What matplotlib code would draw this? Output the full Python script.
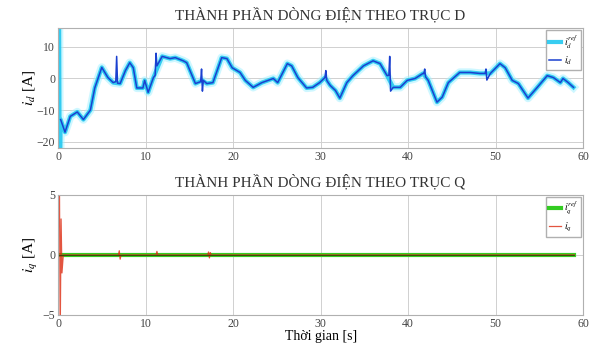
import numpy as np
import matplotlib
matplotlib.use('Agg')
import matplotlib.pyplot as plt

plt.rcParams['font.family'] = ['Liberation Serif', 'DejaVu Serif']
plt.rcParams['mathtext.fontset'] = 'stix'

# Dong dien truc d : gia tri dat (ref) doc tu hinh
t_ref = [0.0, 0.1, 0.2, 0.3, 0.8, 1.4, 2.2, 2.9, 3.7, 4.2, 5.0, 5.7, 6.3, 7.1, 7.7,
         8.2, 8.6, 9.0, 9.7, 9.9, 10.3, 10.9, 11.9, 12.8, 13.4, 14.3, 14.7, 15.7,
         16.5, 17.0, 17.7, 18.7, 19.3, 19.9, 20.8, 21.4, 22.3, 23.3, 24.6, 25.1,
         26.2, 26.7, 27.4, 28.4, 29.1, 29.9, 30.5, 31.1, 31.7, 32.2, 33.0, 33.7,
         34.9, 36.0, 36.8, 37.6, 38.3, 38.9, 39.1, 39.9, 40.8, 41.7, 42.3, 43.3,
         43.9, 44.6, 45.9, 47.1, 48.2, 49.4, 50.5, 51.1, 51.9, 52.6, 53.7, 54.7,
         55.9, 56.6, 57.4, 57.7, 58.3, 58.9]
id_ref = [0.0, 40.0, -40.0, -13.0, -17.0, -12.0, -10.6, -13.0, -10.0, -3.0, 3.5, 0.3,
          -1.3, -1.6, 2.5, 5.0, 3.4, -3.0, -3.0, -0.6, -4.4, 0.3, 7.0, 6.3, 6.6, 5.6,
          5.0, -1.6, -0.6, -1.6, -1.3, 6.6, 6.3, 3.4, 1.9, -0.6, -2.8, -1.3, 0.0, -1.3,
          4.7, 4.0, 0.3, -3.0, -2.8, -1.3, 0.3, -2.2, -3.8, -6.2, -1.3, 0.9, 4.0, 5.6,
          4.7, 0.9, -2.8, -2.8, -2.8, -0.6, 0.0, 1.6, -0.6, -7.5, -5.9, -1.3, 1.9, 1.9,
          1.6, 1.6, 4.7, 3.4, -0.6, -1.6, -6.2, -3.0, 0.9, 0.3, -1.3, 0.0, -1.3, -2.8]

# Dong dien truc d do duoc (co cac xung nhieu)
t_id = [0.3, 0.8, 1.4, 2.2, 2.9, 3.7, 4.2, 5.0, 5.7, 6.3, 6.6, 6.7, 6.8, 7.1, 7.7,
        8.2, 8.6, 9.0, 9.7, 9.9, 10.3, 10.9, 11.1, 11.2, 11.3, 11.9, 12.8, 13.4,
        14.3, 14.7, 15.7, 16.3, 16.4, 16.5, 16.6, 17.0, 17.7, 18.7, 19.3, 19.9, 20.8,
        21.4, 22.3, 23.3, 24.6, 25.1, 26.2, 26.7, 27.4, 28.4, 29.1, 29.9, 30.5, 30.6,
        30.7, 30.8, 31.1, 31.7, 32.2, 33.0, 33.7, 34.9, 36.0, 36.8, 37.6, 37.8, 37.9,
        38.0, 38.3, 38.9, 39.1, 39.9, 40.8, 41.7, 41.8, 41.9, 42.0, 42.3, 43.3, 43.9,
        44.6, 45.9, 47.1, 48.2, 48.8, 48.9, 49.0, 49.4, 50.5, 51.1, 51.9, 52.6, 53.7,
        54.7, 55.9, 56.6, 57.4, 57.7, 58.3, 58.9]
id_meas = [-13.0, -17.0, -12.0, -10.6, -13.0, -10.0, -3.0, 3.5, 0.3, -1.3, -1.0, 7.0,
           -1.5, -1.6, 2.5, 5.0, 3.4, -3.0, -3.0, -0.6, -4.4, 0.3, 1.0, 8.0, 4.0, 7.0,
           6.3, 6.6, 5.6, 5.0, -1.6, -1.0, 3.0, -4.0, -0.6, -1.6, -1.3, 6.6, 6.3, 3.4,
           1.9, -0.6, -2.8, -1.3, 0.0, -1.3, 4.7, 4.0, 0.3, -3.0, -2.8, -1.3, 0.3, 2.5,
           -0.5, -1.0, -2.2, -3.8, -6.2, -1.3, 0.9, 4.0, 5.6, 4.7, 0.9, 1.0, 7.0, -4.0,
           -2.8, -2.8, -2.8, -0.6, 0.0, 1.6, 1.5, 3.0, 0.5, -0.6, -7.5, -5.9, -1.3, 1.9,
           1.9, 1.6, 1.6, 3.0, -0.5, 1.6, 4.7, 3.4, -0.6, -1.6, -6.2, -3.0, 0.9, 0.3,
           -1.3, 0.0, -1.3, -2.8]

# Dong dien truc q
t_q = [0.0, 59.0]
iq_ref = [0.0, 0.0]
t_iq = [0.0, 0.15, 0.25, 0.35, 0.45, 0.6, 6.9, 7.0, 7.1, 7.2, 11.2, 11.3, 11.4,
        17.1, 17.2, 17.3, 17.4, 17.5, 59.0]
iq_meas = [0.0, 8.0, -7.0, 3.0, -1.5, 0.0, 0.0, 0.35, -0.35, 0.0, 0.0, 0.3, 0.0,
           0.0, 0.25, -0.25, 0.2, 0.0, 0.0]

xticks = [0, 10, 20, 30, 40, 50, 60]

fig = plt.figure(figsize=(5.92, 3.45), dpi=100)
ax1 = fig.add_axes([0.098, 0.571, 0.887, 0.348])
ax2 = fig.add_axes([0.098, 0.087, 0.887, 0.348])

for ax in (ax1, ax2):
    ax.grid(True, color='#d0d0d0', linewidth=0.7)
    ax.set_axisbelow(True)
    ax.set_xlim(0, 60)
    ax.set_xticks(xticks)
    ax.tick_params(labelsize=8.5, length=0, colors='#444444', pad=2)
    for s in ax.spines.values():
        s.set_color('#b0b0b0')
        s.set_linewidth(0.8)

# quang sang nhat quanh duong ref
ax1.plot(t_ref, id_ref, color='#9ff0ff', linewidth=6.0, alpha=0.5)
ax1.plot(t_ref, id_ref, color='#22c8f0', linewidth=3.0, alpha=0.9,
         label=r'$i_d^{ref}$')
ax1.plot(t_id, id_meas, color='#1a40d0', linewidth=1.1, label=r'$i_d$')
ax1.set_ylim(-22, 16)
ax1.set_yticks([-20, -10, 0, 10])
ax1.set_ylabel(r'$i_d$ [A]', fontsize=11, labelpad=0)
ax1.set_title('THÀNH PHẦN DÒNG ĐIỆN THEO TRỤC D', fontsize=11, color='#333333', pad=6)
ax1.legend(loc='upper right', fontsize=7, handlelength=1.2, borderpad=0.3,
           labelspacing=0.4, fancybox=False, framealpha=1, edgecolor='#b0b0b0',
           handletextpad=0.3, borderaxespad=0.2)

ax2.plot(t_q, iq_ref, color='#33cc22', linewidth=3.0, label=r'$i_q^{ref}$')
ax2.plot(t_iq, iq_meas, color='#dd2a10', linewidth=0.9, alpha=0.8, label=r'$i_q$')
ax2.axhline(0, xmax=59 / 60, color='#3a3a10', linewidth=0.6)
ax2.set_ylim(-5, 5)
ax2.set_yticks([-5, 0, 5])
ax2.set_ylabel(r'$i_q$ [A]', fontsize=11, labelpad=2)
ax2.set_xlabel('Thời gian [s]', fontsize=10, labelpad=0)
ax2.set_title('THÀNH PHẦN DÒNG ĐIỆN THEO TRỤC Q', fontsize=11, color='#333333', pad=6)
ax2.legend(loc='upper right', fontsize=7, handlelength=1.2, borderpad=0.3,
           labelspacing=0.4, fancybox=False, framealpha=1, edgecolor='#b0b0b0',
           handletextpad=0.3, borderaxespad=0.2)

fig.savefig('out.png', dpi=100)
